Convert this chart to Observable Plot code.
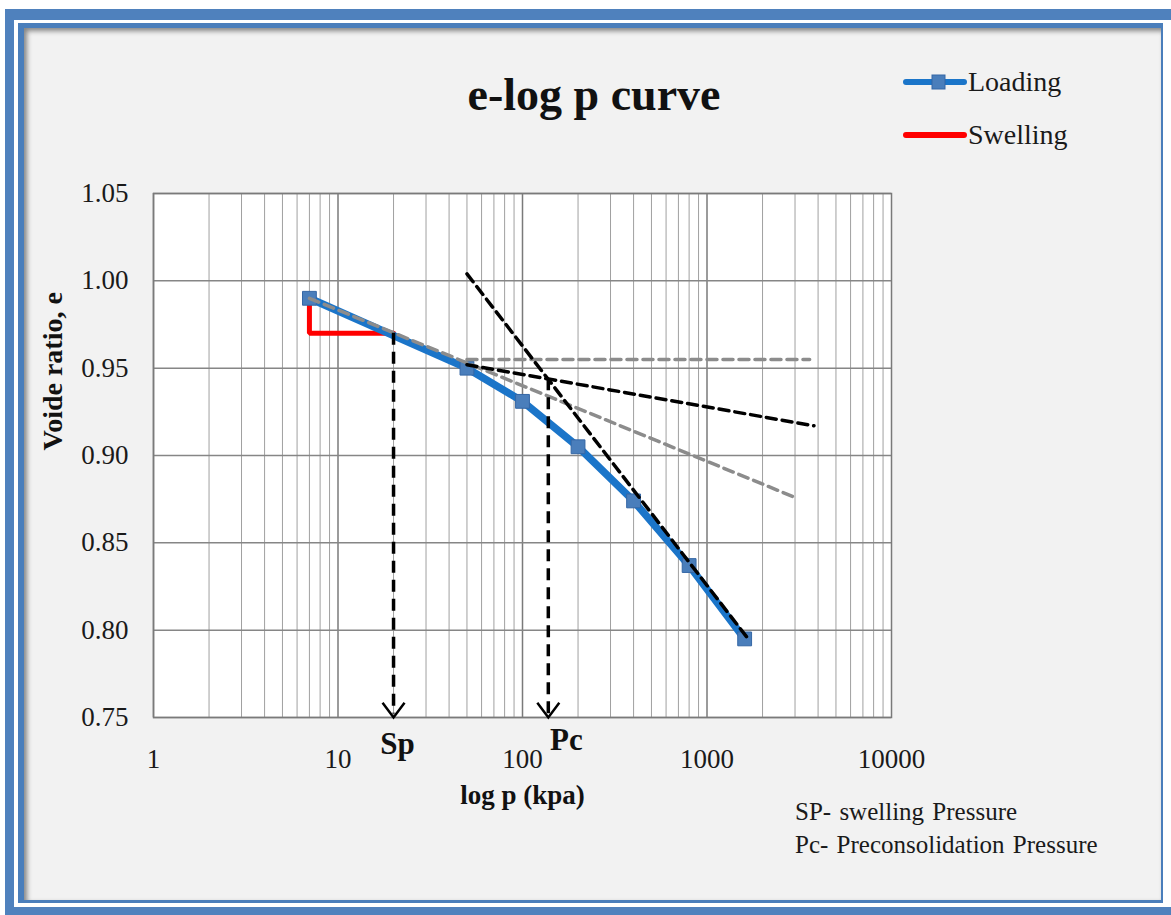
<!DOCTYPE html>
<html>
<head>
<meta charset="utf-8">
<script src="https://cdn.jsdelivr.net/npm/d3@7"></script>
<script src="https://cdn.jsdelivr.net/npm/@observablehq/plot@0.6"></script>
<style>
  html, body { margin: 0; padding: 0; background: #ffffff; }
  #page { position: relative; width: 1171px; height: 915px; overflow: hidden; font-family: "Liberation Serif", "Times New Roman", serif; }
  .box { position: absolute; }
  #chart, #overlay { position: absolute; left: 0; top: 0; }
</style>
</head>
<body>
<div id="page">
  <div class="box" style="left:5px;top:9px;width:1166px;height:906px;background:#4f81bd;"></div>
  <div class="box" style="left:14px;top:20px;width:1157px;height:887px;background:#ffffff;"></div>
  <div class="box" style="left:18px;top:23px;width:1145px;height:880px;background:#4a7ebb;"></div>
  <div class="box" style="left:24px;top:28px;width:1137px;height:872px;background:#f2f2f2;box-shadow: inset 3px 3px 5px rgba(0,0,0,0.45);"></div>
  <div id="chart"></div>
  <div id="overlay"></div>
</div>
<script>
// ---- data ----
const loadP = [7, 50, 100, 200, 400, 800, 1600];
const loadE = [0.990, 0.950, 0.931, 0.905, 0.874, 0.837, 0.795];

const swellP = [7, 7, 20];
const swellE = [0.990, 0.970, 0.970];

// construction lines (Casagrande)
const tangentP = [7, 3000];          // grey dashed tangent
const tangentE = [0.990, 0.876];
const horizP = [50, 3600];           // grey dashed horizontal
const horizE = [0.955, 0.955];
const bisectP = [50, 3800];          // black dashed bisector
const bisectE = [0.952, 0.917];
const compP = [50, 1700];            // black dashed virgin compression line
const compE = [1.004, 0.794];

// pressures marked on the axis
const markNames = ["Sp", "Pc"];
const markP = [20, 138];
const markTopE = [0.970, 0.944];
const markBottomE = 0.752;

// axes
const xTicks = [1, 10, 100, 1000, 10000];
const minorMult = [2, 3, 4, 5, 6, 7, 8, 9];
const decades = [1, 10, 100, 1000];
const yTicks = [0.75, 0.80, 0.85, 0.90, 0.95, 1.00, 1.05];

// ---- tables ----
const loading = loadP.map((p, i) => ({p, e: loadE[i]}));
const swelling = swellP.map((p, i) => ({p, e: swellE[i]}));
const seg = (P, E) => P.map((p, i) => ({p, e: E[i]}));
const minorGrid = decades.flatMap(d => minorMult.map(m => d * m));
const marks = markNames.map((name, i) => ({name, p: markP[i], top: markTopE[i], bottom: markBottomE, tip: 0.75}));

const chevron = {
  draw(context, size) {
    const r = Math.sqrt(size / Math.PI);
    context.moveTo(-r, -r * 1.35);
    context.lineTo(0, 0);
    context.lineTo(r, -r * 1.35);
  }
};

const serif = "Liberation Serif, Times New Roman, serif";

const chart = Plot.plot({
  width: 1171,
  height: 915,
  marginLeft: 153,
  marginRight: 280,
  marginTop: 193,
  marginBottom: 198,
  style: {background: "transparent", fontFamily: serif, fontSize: "27px", color: "#1a1a1a", overflow: "visible"},
  x: {type: "log", domain: [1, 10000]},
  y: {domain: [0.75, 1.05]},
  marks: [
    Plot.frame({fill: "#ffffff", stroke: null}),
    Plot.ruleX(minorGrid, {stroke: "#a0a0a0", strokeWidth: 1}),
    Plot.ruleX(decades, {stroke: "#7a7a7a", strokeWidth: 1.5}),
    Plot.ruleY(yTicks, {stroke: "#868686", strokeWidth: 1.5}),
    Plot.frame({stroke: "#7a7a7a", strokeWidth: 1.5}),
    Plot.axisX({ticks: xTicks, tickSize: 0, tickPadding: 31, tickFormat: d => String(d), label: null, fontSize: 27}),
    Plot.axisY({ticks: yTicks, tickSize: 0, tickPadding: 25, tickFormat: d3.format(".2f"), label: null, fontSize: 27}),
    // swelling
    Plot.line(swelling, {x: "p", y: "e", stroke: "#ff0000", strokeWidth: 5, strokeLinejoin: "miter"}),
    // loading
    Plot.line(loading, {x: "p", y: "e", stroke: "#1b75c9", strokeWidth: 7.5, strokeLinejoin: "round"}),
    Plot.dot(loading, {x: "p", y: "e", symbol: "square", r: 7.8, fill: "#4a7ebb", stroke: "#3567a5", strokeWidth: 1}),
    // construction lines
    Plot.line(seg(horizP, horizE), {x: "p", y: "e", stroke: "#8c8c8c", strokeWidth: 3.5, strokeDasharray: "10,6"}),
    Plot.line(seg(tangentP, tangentE), {x: "p", y: "e", stroke: "#8c8c8c", strokeWidth: 3.5, strokeDasharray: "10,6"}),
    Plot.line(seg(bisectP, bisectE), {x: "p", y: "e", stroke: "#000000", strokeWidth: 3.5, strokeDasharray: "10,6"}),
    Plot.line(seg(compP, compE), {x: "p", y: "e", stroke: "#000000", strokeWidth: 3.5, strokeDasharray: "10,6"}),
    // arrows to the axis
    Plot.ruleX(marks, {x: "p", y1: "top", y2: "bottom", stroke: "#000000", strokeWidth: 3.5, strokeDasharray: "12,7"}),
    Plot.dot(marks, {x: "p", y: "tip", symbol: chevron, r: 11, fill: "none", stroke: "#000000", strokeWidth: 2.5}),
    Plot.text(marks.filter(d => d.name === "Sp"), {x: "p", text: "name", frameAnchor: "bottom", dy: 36, dx: 4, fontSize: 31, fontWeight: "bold", fill: "#111"}),
    Plot.text(marks.filter(d => d.name === "Pc"), {x: "p", text: "name", frameAnchor: "bottom", dy: 32, dx: 18, fontSize: 31, fontWeight: "bold", fill: "#111"}),
    // axis titles
    Plot.text(["log p (kpa)"], {frameAnchor: "bottom", dy: 86, fontSize: 27, fontWeight: "bold", fill: "#111"}),
    Plot.text(["Voide ratio, e"], {frameAnchor: "left", dx: -100, dy: -5, rotate: -90, fontSize: 28, fontWeight: "bold", fill: "#111"})
  ]
});
document.getElementById("chart").appendChild(chart);

// ---- title, legend, notes ----
const ov = d3.select("#overlay").append("svg")
  .attr("width", 1171).attr("height", 915)
  .style("font-family", serif);

ov.append("text").attr("x", 594).attr("y", 110).attr("text-anchor", "middle")
  .attr("font-size", 46).attr("font-weight", "bold").attr("fill", "#111")
  .text("e-log p curve");

const legendItems = [
  {label: "Loading", color: "#1b75c9", marker: true, y: 82},
  {label: "Swelling", color: "#ff0000", marker: false, y: 135}
];
legendItems.forEach(it => {
  ov.append("line").attr("x1", 906).attr("x2", 964).attr("y1", it.y).attr("y2", it.y)
    .attr("stroke", it.color).attr("stroke-width", 6).attr("stroke-linecap", "round");
  if (it.marker) {
    ov.append("rect").attr("x", 932).attr("y", it.y - 7).attr("width", 13).attr("height", 14)
      .attr("fill", "#4a7ebb").attr("stroke", "#3567a5");
  }
  ov.append("text").attr("x", 968).attr("y", it.y + 9)
    .attr("font-size", 28).attr("fill", "#1a1a1a").text(it.label);
});

const notes = ["SP- swelling Pressure", "Pc- Preconsolidation Pressure"];
notes.forEach((t, i) => {
  ov.append("text").attr("x", 795).attr("y", 820 + i * 33)
    .attr("font-size", 25).attr("word-spacing", 2).attr("fill", "#1a1a1a").text(t);
});
</script>
</body>
</html>
